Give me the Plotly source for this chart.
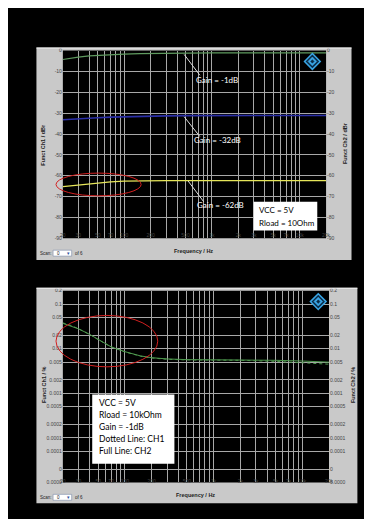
import plotly.graph_objects as go

W, H = 372, 519

# ---------------- data ----------------
freq = [20, 25, 30, 40, 50, 70, 100, 150, 200, 300, 500, 1000, 2000, 5000, 10000, 20000]
gain_m1 = [-4.3, -3.6, -3.2, -2.6, -2.3, -1.9, -1.7, -1.5, -1.4, -1.3, -1.2, -1.1, -1.1, -1.1, -1.1, -1.1]
gain_m32 = [-33.2, -32.9, -32.7, -32.4, -32.2, -31.9, -31.7, -31.5, -31.4, -31.3, -31.2, -31.1, -31.1, -31.1, -31.1, -31.1]
gain_m62 = [-65.2, -64.8, -64.5, -63.9, -63.4, -62.9, -62.6, -62.4, -62.3, -62.3, -62.3, -62.3, -62.3, -62.3, -62.3, -62.3]

thd_ch1 = [0.038, 0.033, 0.028, 0.021, 0.016, 0.011, 0.0085, 0.0068, 0.0062, 0.0058, 0.0056, 0.0056, 0.0055, 0.0052, 0.0048, 0.0045]
thd_ch2 = [0.037, 0.032, 0.028, 0.021, 0.016, 0.011, 0.0086, 0.0069, 0.0063, 0.0059, 0.0057, 0.0057, 0.0057, 0.0055, 0.0053, 0.0050]

x_grid = [20, 30, 40, 50, 60, 70, 80, 90, 100, 200, 300, 400, 500, 600, 700, 800, 900,
          1000, 2000, 3000, 4000, 5000, 6000, 7000, 8000, 9000, 10000, 20000]
x_labels = {20: "20", 30: "30", 50: "50", 70: "70", 100: "100", 200: "200", 500: "500",
            1000: "1k", 2000: "2k", 3000: "3k", 5000: "5k", 7000: "7k", 10000: "10k", 20000: "20k"}
x_text = [x_labels.get(v, "") for v in x_grid]

db_ticks = [0, -10, -20, -30, -40, -50, -60, -70, -80, -90]
db_text = [str(v) for v in db_ticks]

pct_ticks = [0.00001, 0.00002, 0.00005, 0.0001, 0.0002, 0.0005, 0.001, 0.002, 0.005,
             0.01, 0.02, 0.05, 0.1, 0.2]
pct_text = ["0.0000", "0", "0.0001", "0.0001", "0.0002", "0.0005", "0.001", "0.002",
            "0.005", "0.01", "0.02", "0.05", "0.1", "0.2"]


def px(x):
    return x / W


def py(y):
    return 1 - y / H


fig = go.Figure()

# top chart traces
fig.add_trace(go.Scatter(x=freq, y=gain_m1, mode="lines", line=dict(color="#5f9a5f", width=1.2),
                         xaxis="x", yaxis="y", showlegend=False, hoverinfo="skip"))
fig.add_trace(go.Scatter(x=freq, y=gain_m32, mode="lines", line=dict(color="#2b2fa8", width=1.6),
                         xaxis="x", yaxis="y", showlegend=False, hoverinfo="skip"))
fig.add_trace(go.Scatter(x=freq, y=gain_m62, mode="lines", line=dict(color="#e6e65a", width=1.2),
                         xaxis="x", yaxis="y2", showlegend=False, hoverinfo="skip"))

# bottom chart traces
fig.add_trace(go.Scatter(x=freq, y=thd_ch1, mode="lines", line=dict(color="#4f9a4f", width=1, dash="dot"),
                         xaxis="x2", yaxis="y3", showlegend=False, hoverinfo="skip"))
fig.add_trace(go.Scatter(x=freq, y=thd_ch2, mode="lines", line=dict(color="#4f9a4f", width=1),
                         xaxis="x2", yaxis="y4", showlegend=False, hoverinfo="skip"))

tickfont = dict(family="Liberation Sans", size=5, color="#444")
gridc = "#a8a8a8"

common_x = dict(type="log", tickmode="array", tickvals=x_grid, ticktext=x_text,
                showgrid=True, gridcolor=gridc, gridwidth=1, zeroline=False,
                tickfont=tickfont, ticks="", showline=False, fixedrange=True)

fig.update_layout(
    width=W, height=H, margin=dict(l=0, r=0, t=0, b=0),
    paper_bgcolor="black", plot_bgcolor="black",
    xaxis=dict(domain=[px(53), px(322)], anchor="free", position=py(223),
               range=[1.30103, 4.30103], **common_x),
    yaxis=dict(domain=[py(230), py(40)], anchor="x", range=[-90, 0], tickvals=db_ticks,
               ticktext=db_text, showgrid=True, gridcolor=gridc, zeroline=False,
               tickfont=tickfont, ticks=""),
    yaxis2=dict(overlaying="y", side="right", anchor="x", range=[-90, 0], tickvals=db_ticks,
                ticktext=db_text, showgrid=False, zeroline=False, tickfont=tickfont, ticks=""),
    xaxis2=dict(domain=[px(53), px(325)], anchor="free", position=py(471),
                range=[1.30103, 4.30103], **common_x),
    yaxis3=dict(domain=[py(477), py(283)], anchor="x2", type="log", range=[-5, -0.69897],
                tickvals=pct_ticks, ticktext=pct_text, showgrid=True, gridcolor=gridc,
                zeroline=False, tickfont=tickfont, ticks=""),
    yaxis4=dict(overlaying="y3", side="right", anchor="x2", type="log", range=[-5, -0.69897],
                tickvals=pct_ticks, ticktext=pct_text, showgrid=False, zeroline=False,
                tickfont=tickfont, ticks=""),
)

shapes = []
annotations = []


def rect(x0, y0, x1, y1, fill, line=None, lw=0, layer="below"):
    shapes.append(dict(type="rect", xref="paper", yref="paper", x0=px(x0), x1=px(x1),
                       y0=py(y1), y1=py(y0), fillcolor=fill,
                       line=dict(color=line or fill, width=lw), layer=layer))


def text(x, y, s, size=5, color="#222", bold=False, xanchor="center", angle=0, family="Liberation Sans"):
    if bold:
        s = "<b>" + s + "</b>"
    annotations.append(dict(x=px(x), y=py(y), xref="paper", yref="paper", text=s, showarrow=False,
                            xanchor=xanchor, yanchor="middle", textangle=angle,
                            font=dict(size=size, color=color, family=family)))


def ellipse(x0, y0, x1, y1):
    shapes.append(dict(type="circle", xref="paper", yref="paper", x0=px(x0), x1=px(x1),
                       y0=py(y1), y1=py(y0), line=dict(color="#d42020", width=1), layer="above"))


def line(x0, y0, x1, y1, color="#dddddd", w=1):
    shapes.append(dict(type="line", xref="paper", yref="paper", x0=px(x0), x1=px(x1),
                       y0=py(y0), y1=py(y1), line=dict(color=color, width=w), layer="above"))


def diamond(cx, cy, r, fill, color, w):
    path = "M {},{} L {},{} L {},{} L {},{} Z".format(
        px(cx), py(cy - r), px(cx + r), py(cy), px(cx), py(cy + r), px(cx - r), py(cy))
    shapes.append(dict(type="path", xref="paper", yref="paper", path=path, fillcolor=fill,
                       line=dict(color=color, width=w), layer="above"))


def logo(cx, cy):
    diamond(cx, cy, 8, "#0a2a45", "#3aa6e6", 1.5)
    diamond(cx, cy, 4.5, "#3aa6e6", "#3aa6e6", 0.5)
    diamond(cx, cy, 1.8, "#0a2a45", "#0a2a45", 0.5)


def scan(y):
    text(36, y, "Scan:", size=4.5)
    rect(43, y - 3, 62, y + 3, "white", "#7a8aa8", 0.6, layer="above")
    text(45, y, "0", size=4.5, xanchor="left")
    text(59, y, "▾", size=5, color="#3050a0")
    text(63, y, "of 6", size=4.5, xanchor="left")


# ----- top panel -----
rect(26, 37, 348, 252, "#c9c9c9")
rect(53, 40, 322, 230, "black")
line(26, 37.5, 348, 37.5, "#f0f0f0", 1)
text(33, 135, "Funct Ch1 / dBr", size=5.5, bold=True, angle=-90)
text(342, 134, "Funct Ch2 / dBr", size=5.5, bold=True, angle=-90)
text(187, 243, "Frequency / Hz", size=5.5, bold=True)
scan(245)
logo(308, 51)

line(177, 44, 193, 65)
text(187, 70, "Gain = -1dB", size=8, color="white", xanchor="left", family="Lato")
line(177, 107, 193, 127)
text(185, 131, "Gain = -32dB", size=8, color="white", xanchor="left", family="Lato")
line(181, 172, 197, 193)
text(188, 196, "Gain = -62dB", size=8, color="white", xanchor="left", family="Lato")

rect(248, 193, 313, 222, "white", layer="above")
text(251, 201, "VCC = 5V", size=8, color="black", xanchor="left", family="Lato")
text(251, 214, "Rload = 10Ohm", size=8, color="black", xanchor="left", family="Lato")

ellipse(46, 164, 133, 187)

# ----- bottom panel -----
rect(26, 280, 354, 498, "#c9c9c9")
rect(53, 283, 325, 477, "black")
line(26, 280.5, 354, 280.5, "#f0f0f0", 1)
text(33, 378, "Funct Ch1 / %", size=5.5, bold=True, angle=-90)
text(349, 378, "Funct Ch2 / %", size=5.5, bold=True, angle=-90)
text(189, 490, "Frequency / Hz", size=5.5, bold=True)
scan(492)
logo(314, 294)

rect(83, 388, 167, 458, "white", layer="above")
for i, s in enumerate(["VCC = 5V", "Rload = 10kOhm", "Gain = -1dB", "Dotted Line: CH1", "Full Line: CH2"]):
    text(88, 397 + 12 * i, s, size=8.5, color="black", xanchor="left", family="Lato")

ellipse(46, 308, 150, 360)

fig.update_layout(shapes=shapes, annotations=annotations)
fig.write_html("out.html")
